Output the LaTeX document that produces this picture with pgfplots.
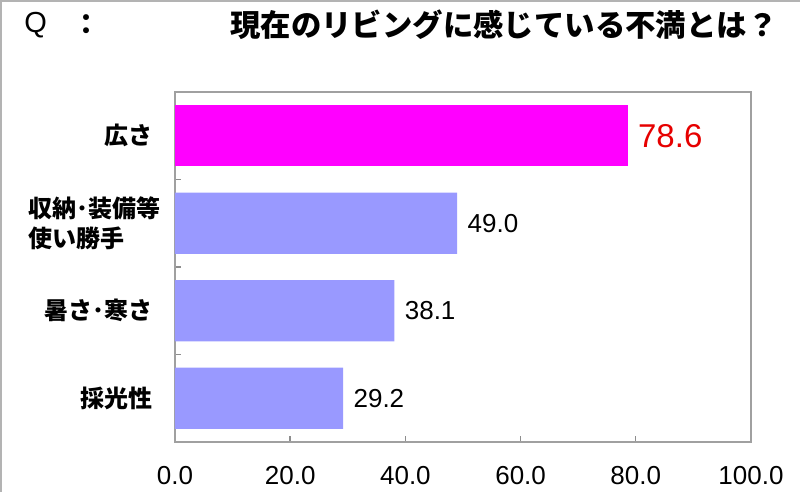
\documentclass[border=0pt]{standalone}
\usepackage{fontspec}
\setmainfont{Liberation Sans}
\newfontfamily\jp{Noto Sans CJK JP}
\usepackage{pgfplots}
\pgfplotsset{compat=1.18}
\definecolor{barmag}{HTML}{FF00FF}
\definecolor{barlav}{HTML}{9999FF}
\definecolor{valred}{HTML}{E60000}
\definecolor{framec}{HTML}{A0A0A0}
\begin{document}
\begin{tikzpicture}
\path[use as bounding box] (0,0) rectangle (400pt,-246pt);
\draw[framec!80, line width=1pt] (0.5pt,-246pt) -- (0.5pt,-0.5pt) -- (400pt,-0.5pt);
\node[anchor=west, inner sep=0pt, font=\fontsize{14.5}{16}\selectfont] at (12pt,-12.5pt) {Q};
\node[anchor=center, inner sep=0pt, font=\jp\bfseries\fontsize{14}{16}\selectfont] at (43pt,-12.5pt) {：};
\node[anchor=east, inner sep=0pt, font=\jp\bfseries\fontsize{15.2}{17}\selectfont] at (389pt,-12.5pt) {現在のリビングに感じている不満とは？};
\begin{axis}[at={(87.5pt,-221pt)}, anchor=south west, scale only axis,
  width=288pt, height=175pt,
  xmin=0, xmax=100, ymin=-0.5, ymax=3.5, y dir=reverse,
  xbar, bar width=0.7, bar shift=0pt,
  axis line style={draw=framec, line width=0.8pt},
  xtick={0,20,...,100}, minor xtick={20,40,60,80},
  ytick={0,1,2,3}, minor ytick={0.5,1.5,2.5},
  yticklabels={広さ, {収納･装備等\hspace*{-4pt}\\使い勝手}, 暑さ･寒さ, 採光性},
  xtick pos=left, ytick pos=left, tick align=inside,
  major tick length=0pt, minor tick length=3pt,
  every minor tick/.append style={draw=framec!120, line width=0.7pt},
  /pgf/number format/.cd, fixed, fixed zerofill, precision=1, assume math mode=true,
  /pgfplots/.cd,
  xticklabel style={font=\fontsize{13}{15}\selectfont, anchor=center, yshift=-17pt},
  yticklabel style={font=\jp\bfseries\fontsize{12}{15}\selectfont, align=left, anchor=east, inner sep=0pt, xshift=-11pt},
  nodes near coords,
  every node near coord/.append style={anchor=west, inner sep=0pt, xshift=5pt},
]
\addplot[fill=barmag, draw=none, every node near coord/.append style={font=\fontsize{16.5}{18}\selectfont, text=valred}] coordinates {(78.6,0)};
\addplot[fill=barlav, draw=none, every node near coord/.append style={font=\fontsize{13}{15}\selectfont, text=black}] coordinates {(49.0,1) (38.1,2) (29.2,3)};
\end{axis}
\end{tikzpicture}
\end{document}
